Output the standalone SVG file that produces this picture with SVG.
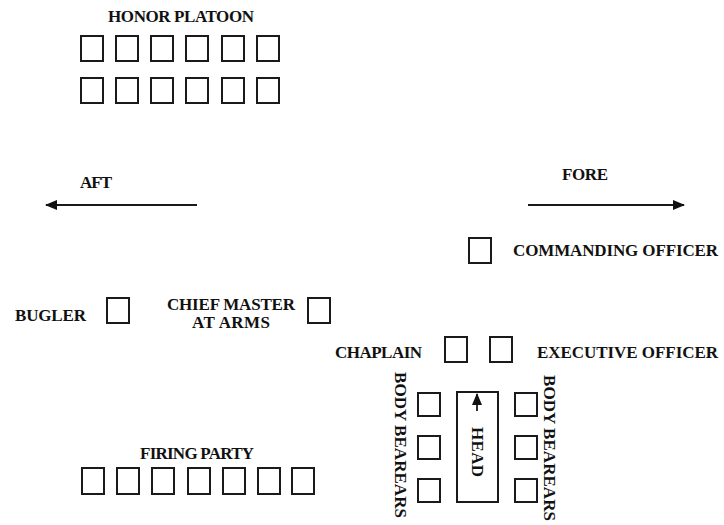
<svg xmlns="http://www.w3.org/2000/svg" width="724" height="525" viewBox="0 0 724 525">
<style>
  .b{fill:none;stroke:#1a1a1a;stroke-width:2}
  .t{font-family:"Liberation Serif","Times New Roman",serif;font-weight:bold;font-size:17px;fill:#111}
  .c{text-anchor:middle}
  .ln{stroke:#1a1a1a;stroke-width:1.8;fill:none}
</style>
<defs>
  <marker id="ah" viewBox="0 0 12 10" refX="11" refY="5" markerWidth="12" markerHeight="10" markerUnits="userSpaceOnUse" orient="auto">
    <path d="M0,0 L12,5 L0,10 Z" fill="#111"/>
  </marker>
</defs>
<rect width="724" height="525" fill="#fff"/>

<g id="honor-platoon">
  <text class="t c" x="181" y="22" textLength="146">HONOR PLATOON</text>
  <rect class="b" x="81" y="36" width="22" height="25"/>
  <rect class="b" x="116" y="36" width="22" height="25"/>
  <rect class="b" x="151" y="36" width="22" height="25"/>
  <rect class="b" x="186" y="36" width="22" height="25"/>
  <rect class="b" x="222" y="36" width="22" height="25"/>
  <rect class="b" x="257" y="36" width="22" height="25"/>
  <rect class="b" x="81" y="78" width="22" height="25"/>
  <rect class="b" x="116" y="78" width="22" height="25"/>
  <rect class="b" x="151" y="78" width="22" height="25"/>
  <rect class="b" x="186" y="78" width="22" height="25"/>
  <rect class="b" x="222" y="78" width="22" height="25"/>
  <rect class="b" x="257" y="78" width="22" height="25"/>
</g>

<g id="aft">
  <text class="t" x="80" y="188" textLength="32">AFT</text>
</g>
<g id="fore">
  <text class="t" x="562" y="180" textLength="46">FORE</text>
</g>

<g id="commanding-officer">
  <rect class="b" x="469" y="238" width="22" height="25"/>
  <text class="t" x="513" y="256" textLength="205">COMMANDING OFFICER</text>
</g>

<g id="bugler">
  <text class="t" x="15" y="321" textLength="71">BUGLER</text>
  <rect class="b" x="107" y="298" width="22" height="25"/>
</g>

<g id="chief-master-at-arms">
  <text class="t c" x="231" y="310" textLength="128">CHIEF MASTER</text>
  <text class="t c" x="231" y="328" textLength="78">AT ARMS</text>
  <rect class="b" x="308" y="298" width="22" height="25"/>
</g>

<g id="chaplain">
  <text class="t" x="335" y="358" textLength="87">CHAPLAIN</text>
  <rect class="b" x="445" y="337" width="22" height="25"/>
</g>

<g id="executive-officer">
  <rect class="b" x="490" y="337" width="22" height="25"/>
  <text class="t" x="537" y="358" textLength="181">EXECUTIVE OFFICER</text>
</g>

<g id="body-bearers-left">
  <text class="t c" transform="translate(401,445) rotate(90)" x="0" y="6" textLength="146">BODY BEAREARS</text>
  <rect class="b" x="418" y="393" width="22" height="23"/>
  <rect class="b" x="418" y="436" width="22" height="23"/>
  <rect class="b" x="418" y="479" width="22" height="23"/>
</g>

<g id="casket">
  <rect class="b" x="457" y="392" width="41" height="110"/>
  <text class="t c" transform="translate(478,452) rotate(90)" x="0" y="6" textLength="50">HEAD</text>
</g>

<g id="body-bearers-right">
  <rect class="b" x="515" y="393" width="22" height="23"/>
  <rect class="b" x="515" y="436" width="22" height="23"/>
  <rect class="b" x="515" y="479" width="22" height="23"/>
  <text class="t c" transform="translate(550,448) rotate(90)" x="0" y="6" textLength="146">BODY BEAREARS</text>
</g>

<g id="firing-party">
  <text class="t c" x="197" y="459" textLength="114">FIRING PARTY</text>
  <rect class="b" x="82" y="468" width="22" height="26"/>
  <rect class="b" x="117" y="468" width="22" height="26"/>
  <rect class="b" x="152" y="468" width="22" height="26"/>
  <rect class="b" x="188" y="468" width="22" height="26"/>
  <rect class="b" x="223" y="468" width="22" height="26"/>
  <rect class="b" x="258" y="468" width="22" height="26"/>
  <rect class="b" x="292" y="468" width="22" height="26"/>
</g>

<g id="connectors">
  <line class="ln" x1="197" y1="205" x2="46" y2="205" marker-end="url(#ah)"/>
  <line class="ln" x1="528" y1="205" x2="684" y2="205" marker-end="url(#ah)"/>
  <line class="ln" x1="477" y1="411" x2="477" y2="394" marker-end="url(#ah)"/>
</g>
</svg>
